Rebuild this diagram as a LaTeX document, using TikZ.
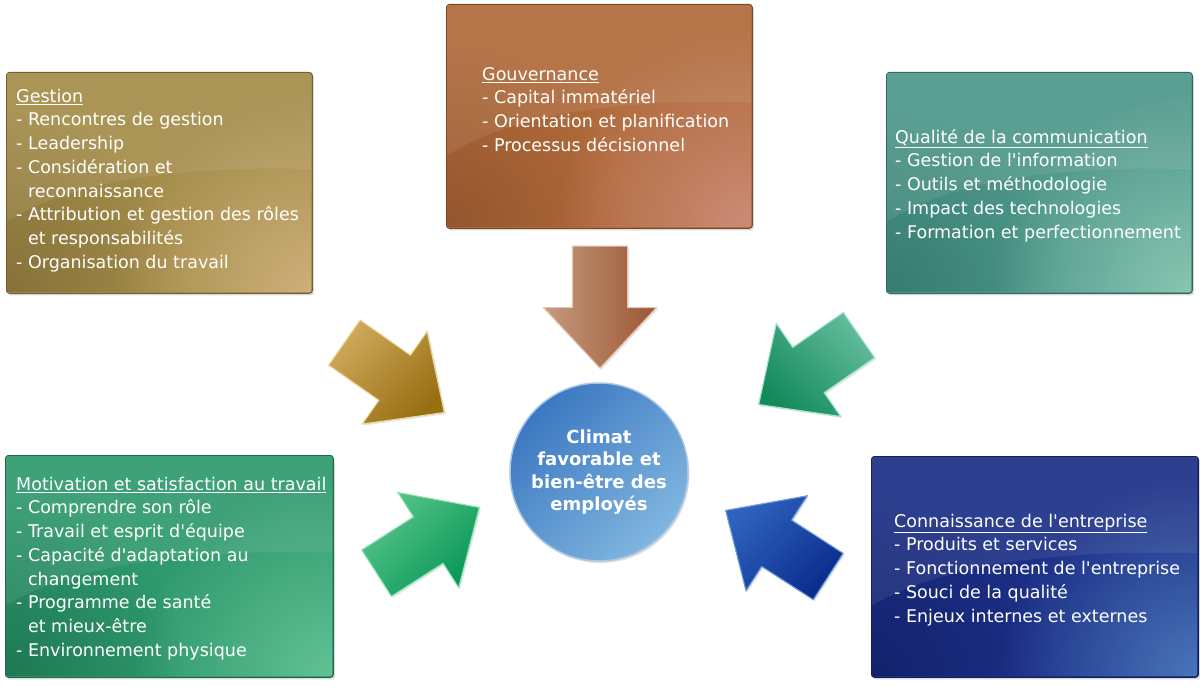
\documentclass[tikz,border=0pt]{standalone}
\usepackage{fontspec}
\usetikzlibrary{shapes.arrows,shadows,fadings}
\setmainfont{DejaVu Sans}[Ligatures=TeXOff]
\definecolor{gestA}{HTML}{86723A}\definecolor{gestM}{HTML}{A38C49}\definecolor{gestB}{HTML}{CEB07A}
\definecolor{gouvA}{HTML}{94562E}\definecolor{gouvM}{HTML}{B06A3A}\definecolor{gouvB}{HTML}{CC8C78}
\definecolor{qualA}{HTML}{367C70}\definecolor{qualM}{HTML}{4E978A}\definecolor{qualB}{HTML}{8AC6B2}
\definecolor{motA}{HTML}{1E7854}\definecolor{motM}{HTML}{2F996D}\definecolor{motB}{HTML}{62C296}
\definecolor{conA}{HTML}{13226C}\definecolor{conM}{HTML}{1C2F86}\definecolor{conB}{HTML}{4A76BA}
\definecolor{circA}{HTML}{3C78C2}\definecolor{circB}{HTML}{80B6DF}\definecolor{circE}{HTML}{A8C6E6}
\definecolor{brL}{HTML}{C49A7E}\definecolor{brD}{HTML}{9C5634}\definecolor{brE}{HTML}{E2C6B0}
\definecolor{goL}{HTML}{CFA85A}\definecolor{goD}{HTML}{976E12}\definecolor{goE}{HTML}{EAD7A0}
\definecolor{teL}{HTML}{62BC9C}\definecolor{teD}{HTML}{138A5C}\definecolor{teE}{HTML}{A6E2CC}
\definecolor{grL}{HTML}{58C58A}\definecolor{grD}{HTML}{079656}\definecolor{grE}{HTML}{98E2BA}
\definecolor{blL}{HTML}{2E62BE}\definecolor{blD}{HTML}{0A2C8C}\definecolor{blE}{HTML}{6E9CE2}
\tikzfading[name=softspot, inner color=transparent!0, outer color=transparent!100]
\tikzset{
  box/.style={fill=#1, draw=#1!68!black, line width=0.8pt, rounded corners=3pt, anchor=north west,
    inner sep=0pt,
    drop shadow={opacity=0.28, shadow xshift=1.5pt, shadow yshift=-2pt}},
  boxtext/.style={anchor=north west, align=left, inner sep=0pt, text=white,
    font=\fontsize{17.5}{23.7}\selectfont},
  barrow/.style={single arrow, minimum height=122pt, inner xsep=0pt, inner ysep=27pt,
    single arrow head extend=29pt, single arrow tip angle=86,
    anchor=tip, line width=1.1pt,
    drop shadow={opacity=0.2, shadow xshift=1.5pt, shadow yshift=-1.5pt}},
  gloss/.style={fill=white, fill opacity=0.08, draw=none}
}
% #1..#4 = box corners (image px: x1,y1,x2,y2); #5 dark colour, #6 light colour
\newcommand\boxfx[6]{%
  \begin{scope}
  \clip[rounded corners=2.5pt] (#1+0.8,-#2-0.8) rectangle (#3-0.8,-#4+0.8);
  \fill[#5, path fading=softspot] (#1,-#4) circle (180);
  \fill[#6, path fading=softspot] (#3,-#4) circle (200);
  \fill[gloss] (#1,-#2) -- (#3,-#2) -- (#3,{-#2-0.44*(#4-#2)})
    .. controls ({#1+0.55*(#3-#1)},{-#2-0.42*(#4-#2)}) and ({#1+0.2*(#3-#1)},{-#2-0.5*(#4-#2)}) ..
    (#1,{-#2-0.68*(#4-#2)}) -- cycle;
  \end{scope}}
\begin{document}
\begin{tikzpicture}[x=1pt,y=1pt]
\useasboundingbox (0,0) rectangle (1204,-687);
\fill[white] (0,0) rectangle (1204,-687);
% boxes
\node[box=gestM, minimum width=306pt, minimum height=221pt] (gestion) at (6,-72) {};
\boxfx{6}{72}{312}{293}{gestA}{gestB}
\node[box=gouvM, minimum width=306pt, minimum height=224pt] (gouvernance) at (446,-4) {};
\boxfx{446}{4}{752}{228}{gouvA}{gouvB}
\node[box=qualM, minimum width=306pt, minimum height=221pt] (qualite) at (886,-72) {};
\boxfx{886}{72}{1192}{293}{qualA}{qualB}
\node[box=motM, minimum width=328pt, minimum height=222pt] (motivation) at (5,-455) {};
\boxfx{5}{455}{333}{677}{motA}{motB}
\node[box=conM, minimum width=327pt, minimum height=221pt] (connaissance) at (871,-456) {};
\boxfx{871}{456}{1198}{677}{conA}{conB}
% texts
\node[boxtext] (gestiontxt) at (16,-86) {\rule{0pt}{16pt}\underline{Gestion}\\
- Rencontres de gestion\\
- Leadership\\
- Considération et\\
\hphantom{- }reconnaissance\\
- Attribution et gestion des rôles\\
\hphantom{- }et responsabilités\\
- Organisation du travail};
\node[boxtext] (gouvtxt) at (482,-64) {\rule{0pt}{16pt}\underline{Gouvernance}\\
- Capital immatériel\\
- Orientation et planification\\
- Processus décisionnel};
\node[boxtext] (qualtxt) at (895,-127) {\rule{0pt}{16pt}\underline{Qualité de la communication}\\
- Gestion de l'information\\
- Outils et méthodologie\\
- Impact des technologies\\
- Formation et perfectionnement};
\node[boxtext] (mottxt) at (16,-474) {\rule{0pt}{16pt}\underline{Motivation et satisfaction au travail}\\
- Comprendre son rôle\\
- Travail et esprit d'équipe\\
- Capacité d'adaptation au\\
\hphantom{- }changement\\
- Programme de santé\\
\hphantom{- }et mieux-être\\
- Environnement physique};
\node[boxtext] (contxt) at (894,-511) {\rule{0pt}{16pt}\underline{Connaissance de l'entreprise}\\
- Produits et services\\
- Fonctionnement de l'entreprise\\
- Souci de la qualité\\
- Enjeux internes et externes};
% arrows
\node[barrow, rotate=-90, left color=brL, right color=brD, draw=brE] (agouv) at (600,-369) {};
\node[barrow, rotate=-35, top color=goL, bottom color=goD, shading angle=45, draw=goE] (agest) at (445,-413) {};
\node[barrow, rotate=-145.3, top color=teL, bottom color=teD, shading angle=-45, draw=teE] (aqual) at (758,-405) {};
\node[barrow, rotate=32.6, top color=grL, bottom color=grD, shading angle=45, draw=grE] (amot) at (480,-507) {};
\node[barrow, rotate=147.2, top color=blL, bottom color=blD, shading angle=45, draw=blE] (acon) at (725,-510) {};
% centre
\node[circle, minimum size=178pt, inner sep=0pt, top color=circA, bottom color=circB,
  shading angle=45, draw=circE, line width=1.5pt, text=white, align=center,
  font=\bfseries\fontsize{18}{22.5}\selectfont,
  drop shadow={opacity=0.25, shadow xshift=1.5pt, shadow yshift=-2pt}] (climat) at (599,-472)
  {Climat\\favorable et\\bien-être des\\employés};
\end{tikzpicture}
\end{document}
